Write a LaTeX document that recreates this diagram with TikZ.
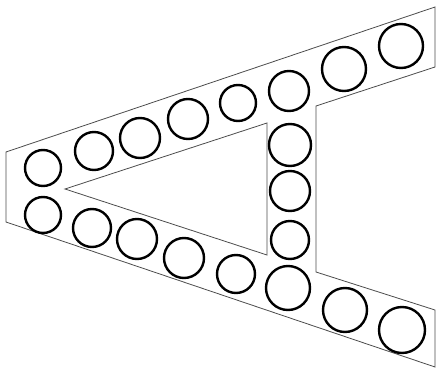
\documentclass[tikz,border=0pt]{standalone}
\usepackage{tikz}

\begin{document}
\begin{tikzpicture}[x=1pt, y=-1pt,
  frame/.style={draw=black!70, line width=0.8pt, line join=miter},
  ring/.style={draw=black, line width=2.4pt}]
  \useasboundingbox (0,0) rectangle (436,369);
  % Outer contour of the bracket
  \draw[frame] (6,152) -- (435,7) -- (435,67) -- (316,106) -- (316,272)
    -- (435,310) -- (435,367) -- (6,222) -- cycle;
  % Triangular opening
  \draw[frame] (65,189) -- (267,123) -- (267,255) -- cycle;
  % Upper arm holes
  \foreach \cx/\cy/\r in {43/168/18, 94/151/19, 140/138/20, 188/119/20,
      238/103/18, 289/91/20, 344/69/22, 401/46/22}
    \draw[ring] (\cx,\cy) circle[radius=\r];
  % Vertical column holes
  \foreach \cx/\cy/\r in {290/145/21, 290/191/20, 290/240/19, 288/288/22}
    \draw[ring] (\cx,\cy) circle[radius=\r];
  % Lower arm holes
  \foreach \cx/\cy/\r in {43/215/18, 92/228/19, 137/239/20, 184/258/20,
      236/274/19, 345/310/22, 402/330/23}
    \draw[ring] (\cx,\cy) circle[radius=\r];
\end{tikzpicture}
\end{document}
